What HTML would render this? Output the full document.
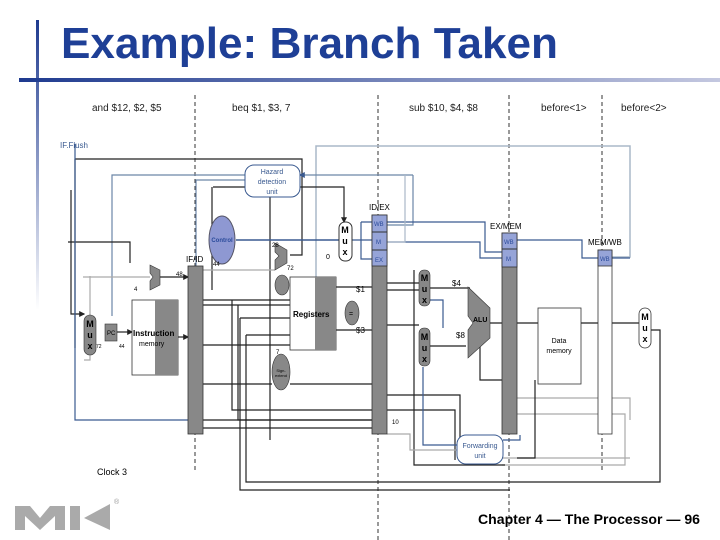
<!DOCTYPE html>
<html><head><meta charset="utf-8"><style>
html,body{margin:0;padding:0;background:#fff;}
svg{display:block;font-family:"Liberation Sans",sans-serif;}
</style></head><body>
<svg width="720" height="540" viewBox="0 0 720 540" xmlns="http://www.w3.org/2000/svg">
<defs>
<linearGradient id="hb" x1="0" x2="1" y1="0" y2="0"><stop offset="0" stop-color="#1e3a8f"/><stop offset="1" stop-color="#c4c8e0"/></linearGradient>
<linearGradient id="vb" x1="0" x2="0" y1="0" y2="1"><stop offset="0" stop-color="#1e3a8f"/><stop offset="1" stop-color="#ffffff"/></linearGradient>
<marker id="a" markerWidth="5" markerHeight="5" refX="4" refY="2.5" orient="auto"><path d="M0,0L5,2.5L0,5z" fill="#222"/></marker>
<marker id="ab" markerWidth="5" markerHeight="5" refX="4" refY="2.5" orient="auto"><path d="M0,0L5,2.5L0,5z" fill="#3a5a90"/></marker>
</defs>
<rect x="36" y="20" width="3" height="290" fill="url(#vb)"/>
<rect x="19" y="78" width="701" height="4" fill="url(#hb)"/>
<text x="61" y="58" font-size="44" font-weight="bold" fill="#1e3f96" textLength="497" lengthAdjust="spacingAndGlyphs">Example: Branch Taken</text>

<g font-size="10" fill="#222">
<text x="92" y="111">and $12, $2, $5</text>
<text x="232" y="111">beq $1, $3, 7</text>
<text x="409" y="111">sub $10, $4, $8</text>
<text x="541" y="111">before&lt;1&gt;</text>
<text x="621" y="111">before&lt;2&gt;</text>
</g>
<g stroke="#333" stroke-width="1" stroke-dasharray="4,3">
<line x1="195" y1="95" x2="195" y2="470"/>
<line x1="378" y1="95" x2="378" y2="540"/>
<line x1="509" y1="95" x2="509" y2="540"/>
<line x1="602" y1="95" x2="602" y2="470"/>
</g>
<text x="60" y="148" font-size="8" fill="#3a5a90">IF.Flush</text>

<g fill="none" stroke-width="1.2">
<path d="M316,320 V146 H630 V257 H612" stroke="#aab8c8" stroke-width="1.5"/>
<path d="M75,159 H302 V255 H290" stroke="#222"/>
<path d="M245,175 H112 V316" stroke="#6c86a8"/>
<path d="M245,180 H196 V266" stroke="#6c86a8"/>
<path d="M413,175 H300" stroke="#6c86a8" marker-end="url(#ab)"/>
<path d="M413,175 V225 H387" stroke="#6c86a8"/>
<path d="M71,190 V314 H84" stroke="#222" marker-end="url(#a)"/>
<path d="M75,159 V348" stroke="#222"/>
<path d="M68,242 H130 V263" stroke="#222"/>
<path d="M75,144 V420 H188" stroke="#3a5a90"/>
<path d="M300,187 H344 V222" stroke="#222" marker-end="url(#a)"/>
<path d="M213,187 H245" stroke="#222"/>
<path d="M212,187 V290" stroke="#222"/>
<path d="M270,197 V440" stroke="#222"/>
<path d="M236,240 H340" stroke="#3a5a90" stroke-width="1.5"/>
<path d="M352,240 H372" stroke="#3a5a90"/>
<path d="M361,222 H372 M361,222 V259 H372" stroke="#3a5a90"/>
<path d="M387,222 H485 V252 H502" stroke="#3a5a90"/>
<path d="M387,242 H480 V258 H502" stroke="#3a5a90"/>
<path d="M387,242 H405 V175" stroke="#aab8c8"/>
<path d="M517,240 H582 V258 H598" stroke="#3a5a90"/>
<path d="M612,258 H630" stroke="#3a5a90"/>
<path d="M203,270 H275" stroke="#aaa"/>
<path d="M90,276 V360 H84" stroke="#aaa"/>
<path d="M160,277 H188" stroke="#222" marker-end="url(#a)"/>
<path d="M83,277 H150" stroke="#aaa"/>
<path d="M117,332 H132" stroke="#222" marker-end="url(#a)"/>
<path d="M178,337 H188" stroke="#222" marker-end="url(#a)"/>
<path d="M203,300 H290 M203,305 H290 M203,345 H290" stroke="#222"/>
<path d="M232,300 V410 H372 M238,305 V420 H372" stroke="#222"/>
<path d="M240,318 H290 M240,318 V490 H510" stroke="#222"/>
<path d="M246,335 H290 M246,335 V482 H660 V330 H651" stroke="#222"/>
<path d="M203,384 H272 M290,384 H372" stroke="#222"/>
<path d="M203,420 H372 M203,428 H372" stroke="#222"/>
<path d="M336,287 H372 M336,330 H372" stroke="#222"/>
<path d="M387,283 H419 M387,290 H419 M387,325 H419 M387,395 H460 V450 H457 M387,410 H455 V460" stroke="#222"/>
<path d="M430,288 H470 M430,346 H466 M480,346 V380 H502" stroke="#222"/>
<path d="M490,323 H502 M517,323 H538 M581,323 H598 M612,323 H639" stroke="#222"/>
<path d="M517,414 H598 M612,414 H625 V465 H502" stroke="#aaa"/>
<path d="M517,398 H598 M612,398 H630 V420 M630,458 H502" stroke="#aaa"/>
<path d="M430,300 H443 V328 M423,367 V445 H457" stroke="#3a5a90"/>
<path d="M414,270 V465 H505" stroke="#222"/>
<path d="M535,380 V458 H517" stroke="#222"/>
<path d="M387,434 H410 V450 H457" stroke="#aaa"/>
<path d="M503,440 H520 V435" stroke="#3a5a90"/>
</g>

<rect x="188" y="266" width="15" height="168" fill="#888" stroke="#333" stroke-width=".8"/>
<text x="186" y="262" font-size="8">IF/ID</text>
<rect x="372" y="215" width="15" height="219" fill="#888" stroke="#333" stroke-width=".8"/>
<rect x="372" y="215" width="15" height="51" fill="#96a4d8" stroke="#333" stroke-width=".8"/>
<line x1="372" y1="232" x2="387" y2="232" stroke="#333"/><line x1="372" y1="250" x2="387" y2="250" stroke="#333"/>
<text x="369" y="210" font-size="8">ID/EX</text>
<g font-size="6" fill="#2a4a9a"><text x="374" y="226">WB</text><text x="376" y="244">M</text><text x="375" y="262">EX</text></g>
<rect x="502" y="233" width="15" height="201" fill="#888" stroke="#333" stroke-width=".8"/>
<rect x="502" y="233" width="15" height="34" fill="#96a4d8" stroke="#333" stroke-width=".8"/>
<line x1="502" y1="249" x2="517" y2="249" stroke="#333"/>
<text x="490" y="229" font-size="8">EX/MEM</text>
<g font-size="6" fill="#2a4a9a"><text x="504" y="244">WB</text><text x="506" y="261">M</text></g>
<rect x="598" y="250" width="14" height="184" fill="#fff" stroke="#333" stroke-width=".8"/>
<rect x="598" y="250" width="14" height="16" fill="#96a4d8" stroke="#333" stroke-width=".8"/>
<text x="588" y="245" font-size="8">MEM/WB</text>
<text x="600" y="261" font-size="6" fill="#2a4a9a">WB</text>

<rect x="245" y="165" width="55" height="32" rx="9" fill="#fff" stroke="#3a5a90"/>
<g font-size="7" fill="#3a5a90" text-anchor="middle"><text x="272" y="174">Hazard</text><text x="272" y="184">detection</text><text x="272" y="194">unit</text></g>
<ellipse cx="222" cy="240" rx="13" ry="24" fill="#8e98d2" stroke="#556"/>
<text x="222" y="242" font-size="6" fill="#2a4a9a" text-anchor="middle" font-weight="bold">Control</text>
<rect x="339" y="222" width="13" height="39" rx="6" fill="#fff" stroke="#333"/>
<g font-size="9" font-weight="bold" text-anchor="middle"><text x="345" y="233">M</text><text x="345" y="244">u</text><text x="345" y="255">x</text></g>
<text x="326" y="259" font-size="7">0</text>
<path d="M275,243 L287,250 L287,263 L275,270 L275,260 L279,256 L275,252Z" fill="#888" stroke="#333" stroke-width=".6"/>
<g font-size="6"><text x="272" y="247">28</text><text x="287" y="270">72</text><text x="213" y="266">44</text><text x="176" y="276">48</text><text x="134" y="291">4</text><text x="276" y="354">7</text><text x="392" y="424">10</text></g>
<ellipse cx="282" cy="285" rx="7" ry="10" fill="#888" stroke="#333" stroke-width=".6"/>
<path d="M150,265 L160,270 L160,285 L150,290 L150,281 L153,277 L150,273Z" fill="#888" stroke="#333" stroke-width=".6"/>
<rect x="290" y="277" width="46" height="73" fill="#fff" stroke="#333" stroke-width=".8"/>
<rect x="315" y="277" width="21" height="73" fill="#888"/>
<text x="293" y="317" font-size="8" font-weight="bold">Registers</text>
<ellipse cx="352" cy="313" rx="7" ry="12" fill="#888" stroke="#333" stroke-width=".6"/>
<text x="349" y="316" font-size="7">=</text>
<text x="356" y="292" font-size="8">$1</text><text x="356" y="333" font-size="8">$3</text>
<ellipse cx="281" cy="372" rx="9" ry="18" fill="#888" stroke="#333" stroke-width=".6"/>
<text x="281" y="372" font-size="4" text-anchor="middle">Sign-</text><text x="281" y="377" font-size="4" text-anchor="middle">extend</text>
<rect x="132" y="300" width="46" height="75" fill="#fff" stroke="#333" stroke-width=".8"/>
<rect x="155" y="300" width="23" height="75" fill="#888"/>
<text x="133" y="336" font-size="8" font-weight="bold">Instruction</text><text x="139" y="346" font-size="7">memory</text>
<rect x="105" y="324" width="12" height="17" fill="#888" stroke="#333" stroke-width=".6"/>
<text x="107" y="335" font-size="6">PC</text>
<text x="96" y="348" font-size="5">72</text><text x="119" y="348" font-size="5">44</text>
<rect x="84" y="315" width="12" height="40" rx="6" fill="#888" stroke="#333" stroke-width=".6"/>
<g font-size="9" font-weight="bold" text-anchor="middle"><text x="90" y="327">M</text><text x="90" y="338">u</text><text x="90" y="349">x</text></g>
<rect x="419" y="270" width="11" height="36" rx="5" fill="#888" stroke="#333" stroke-width=".6"/>
<g font-size="9" font-weight="bold" text-anchor="middle"><text x="424.5" y="281">M</text><text x="424.5" y="292">u</text><text x="424.5" y="303">x</text></g>
<rect x="419" y="328" width="11" height="38" rx="5" fill="#888" stroke="#333" stroke-width=".6"/>
<g font-size="9" font-weight="bold" text-anchor="middle"><text x="424.5" y="340">M</text><text x="424.5" y="351">u</text><text x="424.5" y="362">x</text></g>
<text x="452" y="286" font-size="8">$4</text><text x="456" y="338" font-size="8">$8</text>
<path d="M468,287 L490,308 L490,338 L468,358 L468,330 L473,323 L468,316Z" fill="#888" stroke="#333" stroke-width=".6"/>
<text x="473" y="322" font-size="7" font-weight="bold">ALU</text>
<rect x="538" y="308" width="43" height="76" fill="#fff" stroke="#333" stroke-width=".8"/>
<text x="559" y="343" font-size="7" text-anchor="middle">Data</text><text x="559" y="353" font-size="7" text-anchor="middle">memory</text>
<rect x="639" y="308" width="12" height="40" rx="6" fill="#fff" stroke="#333" stroke-width=".8"/>
<g font-size="9" font-weight="bold" text-anchor="middle"><text x="645" y="320">M</text><text x="645" y="331">u</text><text x="645" y="342">x</text></g>
<rect x="457" y="435" width="46" height="29" rx="9" fill="#fff" stroke="#3a5a90"/>
<text x="480" y="448" font-size="7" fill="#3a5a90" text-anchor="middle">Forwarding</text><text x="480" y="458" font-size="7" fill="#3a5a90" text-anchor="middle">unit</text>
<text x="97" y="475" font-size="9">Clock 3</text>

<g fill="#aaa">
<path d="M15,530 V506 H30 L40,518 L50,506 H65 V530 H55 V516 L40,530 L25,516 V530Z"/>
<path d="M70,506 H80 V530 H70Z M84,518 L110,504 V530Z"/>
</g>
<text x="114" y="504" font-size="7" fill="#999">®</text>
<text x="478" y="524" font-size="13.5" font-weight="bold" textLength="222" lengthAdjust="spacingAndGlyphs">Chapter 4 — The Processor — 96</text>
</svg>
</body></html>
